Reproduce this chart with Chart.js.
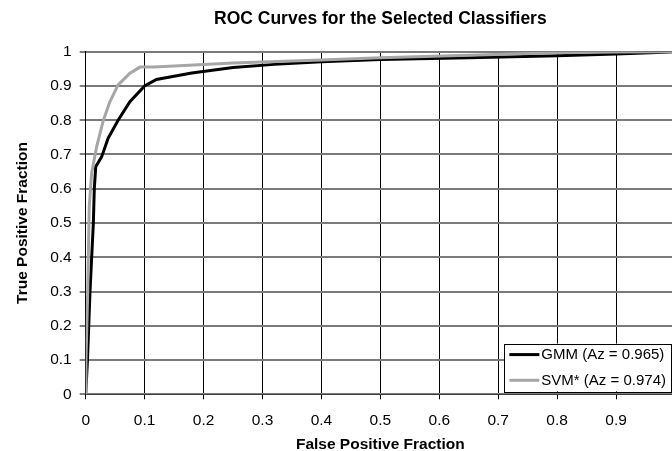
<!DOCTYPE html>
<html>
<head>
<meta charset="utf-8">
<script src="https://cdn.jsdelivr.net/npm/chart.js@4/dist/chart.umd.min.js"></script>
<style>
  html, body { margin: 0; padding: 0; background: #fff; overflow: hidden; }
  #wrap { position: absolute; left: 0; top: 0; width: 687px; height: 451px; }
</style>
</head>
<body>
<div id="wrap"><canvas id="rocChart" width="687" height="451"></canvas></div>
<script>
// ROC curve points
const seriesNames = ['GMM (Az = 0.965)', 'SVM* (Az = 0.974)'];

const fprGMM = [0, 0.003, 0.0073, 0.013, 0.0146, 0.017, 0.027, 0.038, 0.055, 0.075, 0.1, 0.12, 0.18, 0.25, 0.32, 0.4, 0.5, 0.65, 0.8, 0.9, 0.97, 1];
const tprGMM = [0, 0.1, 0.3, 0.5, 0.6, 0.664, 0.693, 0.747, 0.8, 0.854, 0.9, 0.919, 0.938, 0.954, 0.963, 0.971, 0.977, 0.982, 0.988, 0.993, 0.998, 1];

const fprSVM = [0, 0.0005, 0.0034, 0.006, 0.01, 0.0186, 0.03, 0.041, 0.055, 0.075, 0.092, 0.115, 0.15, 0.25, 0.4, 0.5, 0.65, 0.8, 0.9, 1];
const tprSVM = [0, 0.1, 0.3, 0.548, 0.645, 0.723, 0.8, 0.854, 0.903, 0.937, 0.955, 0.955, 0.958, 0.967, 0.976, 0.982, 0.99, 0.997, 0.999, 1];

// axis labels shown (the 1 on the x axis falls outside the picture)
const xTickLabels = ['0', '0.1', '0.2', '0.3', '0.4', '0.5', '0.6', '0.7', '0.8', '0.9'];
const yTickLabels = ['0', '0.1', '0.2', '0.3', '0.4', '0.5', '0.6', '0.7', '0.8', '0.9', '1'];

const toPoints = (xs, ys) => xs.map((x, i) => ({ x: x, y: ys[i] }));

const FONT = '"Liberation Sans", Arial, sans-serif';
Chart.defaults.font.family = FONT;
Chart.defaults.color = '#000';

// Legend box drawn inside the plot, bottom right, like the original
const insideLegend = {
  id: 'insideLegend',
  afterDraw(chart) {
    const ctx = chart.ctx;
    const area = chart.chartArea;
    const rowH = 25.7;
    const sample = 30;
    ctx.save();
    ctx.font = '15px ' + FONT;
    let textW = 0;
    chart.data.datasets.forEach(ds => {
      textW = Math.max(textW, ctx.measureText(ds.label).width);
    });
    const w = 5 + sample + 2 + textW + 5;
    const h = rowH * chart.data.datasets.length + 22 - rowH;
    const right = area.right - 4;
    const bottom = area.bottom - 2.5;
    const left = right - w;
    const top = bottom - h - 0.5;
    ctx.fillStyle = '#fff';
    ctx.fillRect(left, top, w, h);
    ctx.strokeStyle = '#000';
    ctx.lineWidth = 1;
    ctx.strokeRect(Math.round(left) + 0.5, Math.round(top) + 0.5, Math.round(w), Math.round(h));
    chart.data.datasets.forEach((ds, i) => {
      const y = top + 11 + i * rowH;
      ctx.strokeStyle = ds.borderColor;
      ctx.lineWidth = 3;
      ctx.beginPath();
      ctx.moveTo(left + 5, y);
      ctx.lineTo(left + 5 + sample, y);
      ctx.stroke();
      ctx.fillStyle = '#000';
      ctx.textBaseline = 'middle';
      ctx.textAlign = 'left';
      ctx.fillText(ds.label, left + 5 + sample + 2, y + 0.5);
    });
    ctx.restore();
  }
};

const ctx = document.getElementById('rocChart').getContext('2d');
const rocChart = new Chart(ctx, {
  type: 'scatter',
  data: {
    datasets: [
      {
        label: seriesNames[0],
        data: toPoints(fprGMM, tprGMM),
        showLine: true,
        borderColor: '#000000',
        backgroundColor: '#000000',
        borderWidth: 3,
        pointRadius: 0,
        order: 1
      },
      {
        label: seriesNames[1],
        data: toPoints(fprSVM, tprSVM),
        showLine: true,
        borderColor: '#a6a6a6',
        backgroundColor: '#a6a6a6',
        borderWidth: 3,
        pointRadius: 0,
        order: 0
      }
    ]
  },
  options: {
    responsive: false,
    animation: false,
    layout: { padding: { top: 0, right: 0, bottom: 0, left: 0 } },
    plugins: {
      legend: { display: false },
      tooltip: { enabled: false },
      title: {
        display: true,
        fullSize: false,
        text: 'ROC Curves for the Selected Classifiers',
        color: '#000',
        font: { size: 17.5, weight: 'bold' },
        padding: { top: 9, bottom: 21.7 }
      }
    },
    scales: {
      x: {
        type: 'linear',
        min: 0,
        max: 1,
        afterFit: scale => { scale.height = 56.7; },
        ticks: {
          stepSize: 0.1,
          padding: 12,
          font: { size: 15.5 },
          maxRotation: 0,
          callback: (value, index) => xTickLabels[index] ?? ''
        },
        grid: { color: '#000', lineWidth: 1, tickColor: '#000', tickLength: 5 },
        border: { color: '#404040', width: 1 },
        title: {
          display: true,
          text: 'False Positive Fraction',
          font: { size: 15.5, weight: 'bold', lineHeight: 1 },
          padding: { top: 0, bottom: -1.5 }
        }
      },
      y: {
        type: 'linear',
        min: 0,
        max: 1,
        afterFit: scale => { scale.width = 85.7; },
        ticks: {
          stepSize: 0.1,
          padding: 8,
          font: { size: 15.5 },
          callback: (value, index) => yTickLabels[index] ?? ''
        },
        grid: { color: '#7a7a7a', lineWidth: 2, tickColor: '#000', tickWidth: 1, tickLength: 6 },
        border: { color: '#000', width: 1 },
        title: {
          display: true,
          text: 'True Positive Fraction',
          font: { size: 15.5, weight: 'bold', lineHeight: 1 },
          padding: { top: 15, bottom: 0 }
        }
      }
    }
  },
  plugins: [insideLegend]
});
</script>
</body>
</html>
